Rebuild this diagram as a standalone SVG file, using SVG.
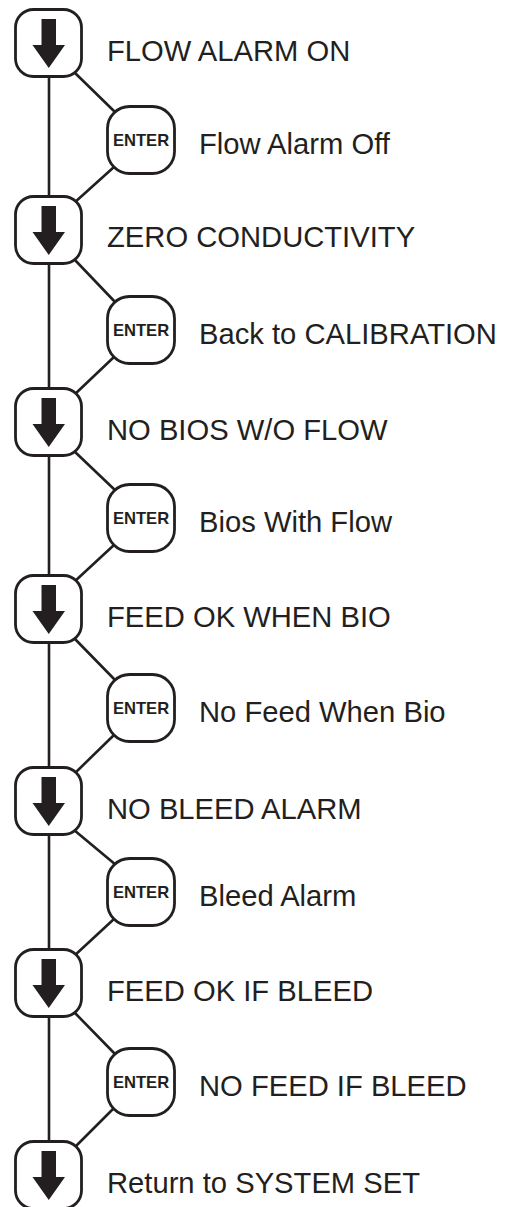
<svg xmlns="http://www.w3.org/2000/svg" xmlns:xlink="http://www.w3.org/1999/xlink" width="508" height="1207" viewBox="0 0 508 1207">
  <style>
    .btn { fill: #ffffff; stroke: #231f20; stroke-width: 2.8; }
    .arrow { fill: #231f20; stroke: none; }
    .wire { fill: none; stroke: #231f20; stroke-width: 2.6; stroke-linecap: round; }
    .label { font-family: "Liberation Sans", Arial, sans-serif; font-size: 29.2px; fill: #231f20; }
    .key { font-family: "Liberation Sans", Arial, sans-serif; font-size: 16.6px; font-weight: bold; fill: #231f20; text-anchor: middle; }
  </style>
  <defs>
    <!-- "next" button: rounded key with a down arrow -->
    <g id="downKey">
      <rect class="btn" x="15.5" y="1.5" width="66" height="67" rx="18"/>
      <polygon class="arrow" points="41.5,11 56,11 56,37 65,37 48.75,60 32.5,37 41.5,37"/>
    </g>
    <!-- ENTER key -->
    <g id="enterKey">
      <rect class="btn" x="107.5" y="1.5" width="67" height="67" rx="22"/>
      <text class="key" x="141" y="41">ENTER</text>
    </g>
  </defs>

  <!-- connectors -->
  <g id="connectors">
    <line class="wire" x1="49" y1="70" x2="49" y2="1150"/>
    <line class="wire" x1="74" y1="72" x2="116" y2="113"/>
    <line class="wire" x1="114" y1="167" x2="74" y2="203"/>
    <line class="wire" x1="74" y1="259" x2="116" y2="303"/>
    <line class="wire" x1="114" y1="357" x2="74" y2="395"/>
    <line class="wire" x1="74" y1="451" x2="116" y2="491"/>
    <line class="wire" x1="114" y1="545" x2="74" y2="582"/>
    <line class="wire" x1="74" y1="638" x2="116" y2="681"/>
    <line class="wire" x1="114" y1="735" x2="74" y2="774"/>
    <line class="wire" x1="74" y1="830" x2="116" y2="865"/>
    <line class="wire" x1="114" y1="919" x2="74" y2="956"/>
    <line class="wire" x1="74" y1="1012" x2="116" y2="1055"/>
    <line class="wire" x1="114" y1="1108" x2="74" y2="1148"/>
  </g>

  <g id="step1">
    <use xlink:href="#downKey" transform="translate(0,8)"/>
    <text class="label" x="107" y="61">FLOW ALARM ON</text>
  </g>
  <g id="enter1">
    <use xlink:href="#enterKey" transform="translate(0,105)"/>
    <text class="label" x="199" y="154">Flow Alarm Off</text>
  </g>

  <g id="step2">
    <use xlink:href="#downKey" transform="translate(0,195)"/>
    <text class="label" x="107" y="247">ZERO CONDUCTIVITY</text>
  </g>
  <g id="enter2">
    <use xlink:href="#enterKey" transform="translate(0,295)"/>
    <text class="label" x="199" y="344">Back to CALIBRATION</text>
  </g>

  <g id="step3">
    <use xlink:href="#downKey" transform="translate(0,387)"/>
    <text class="label" x="107" y="440">NO BIOS W/O FLOW</text>
  </g>
  <g id="enter3">
    <use xlink:href="#enterKey" transform="translate(0,483)"/>
    <text class="label" x="199" y="532">Bios With Flow</text>
  </g>

  <g id="step4">
    <use xlink:href="#downKey" transform="translate(0,574)"/>
    <text class="label" x="107" y="627">FEED OK WHEN BIO</text>
  </g>
  <g id="enter4">
    <use xlink:href="#enterKey" transform="translate(0,673)"/>
    <text class="label" x="199" y="722">No Feed When Bio</text>
  </g>

  <g id="step5">
    <use xlink:href="#downKey" transform="translate(0,766)"/>
    <text class="label" x="107" y="819">NO BLEED ALARM</text>
  </g>
  <g id="enter5">
    <use xlink:href="#enterKey" transform="translate(0,857)"/>
    <text class="label" x="199" y="906">Bleed Alarm</text>
  </g>

  <g id="step6">
    <use xlink:href="#downKey" transform="translate(0,948)"/>
    <text class="label" x="107" y="1001">FEED OK IF BLEED</text>
  </g>
  <g id="enter6">
    <use xlink:href="#enterKey" transform="translate(0,1047)"/>
    <text class="label" x="199" y="1096">NO FEED IF BLEED</text>
  </g>

  <g id="step7">
    <use xlink:href="#downKey" transform="translate(0,1140)"/>
    <text class="label" x="107" y="1193">Return to SYSTEM SET</text>
  </g>
</svg>
